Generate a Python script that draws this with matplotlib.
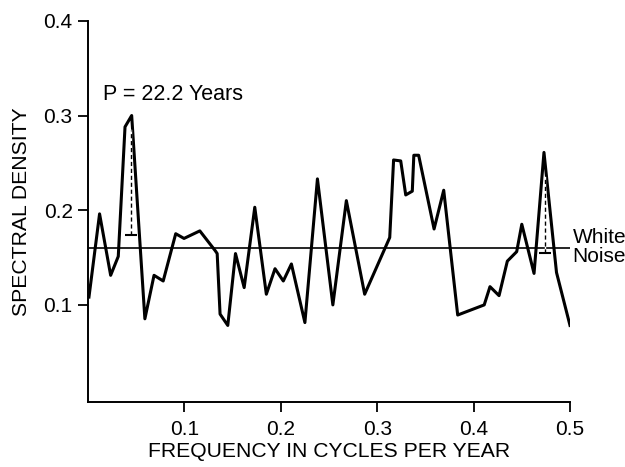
import matplotlib
matplotlib.use("Agg")
import matplotlib.pyplot as plt

plt.rcParams["font.family"] = ["Liberation Sans", "DejaVu Sans"]

# -- data ---------------------------------------------------------------------
freq = [0.001, 0.012, 0.0235, 0.0314, 0.0384, 0.0453, 0.059, 0.0685, 0.078,
        0.091, 0.0996, 0.116, 0.132, 0.134, 0.137, 0.145, 0.153, 0.162, 0.173,
        0.185, 0.194, 0.2026, 0.211, 0.225, 0.238, 0.254, 0.268, 0.287, 0.313,
        0.317, 0.3244, 0.3296, 0.3364, 0.338, 0.343, 0.359, 0.369, 0.3835,
        0.411, 0.417, 0.4264, 0.435, 0.4447, 0.450, 0.4627, 0.473, 0.486, 0.5]
density = [0.108, 0.196, 0.131, 0.151, 0.288, 0.300, 0.085, 0.131, 0.125,
           0.175, 0.170, 0.178, 0.157, 0.154, 0.090, 0.078, 0.154, 0.118, 0.203,
           0.111, 0.138, 0.125, 0.143, 0.081, 0.233, 0.0997, 0.210, 0.111, 0.171,
           0.253, 0.252, 0.216, 0.220, 0.258, 0.258, 0.180, 0.221, 0.089,
           0.0997, 0.119, 0.1095, 0.146, 0.156, 0.185, 0.133, 0.261, 0.134, 0.078]

white_noise = 0.16

# dashed significance bars at the two peaks
bar_f = [0.0443, 0.4744]
bar_low = [0.174, 0.155]
bar_high = [0.285, 0.235]

xticks = [0.1, 0.2, 0.3, 0.4, 0.5]
yticks = [0.1, 0.2, 0.3, 0.4]

fig = plt.figure(figsize=(6.25, 4.67), dpi=100)
ax = fig.add_axes([88 / 625, 65 / 467, 482 / 625, 381 / 467])

ax.plot([0, 0.5], [white_noise, white_noise], color="black", linewidth=1.2,
        zorder=2)
ax.plot(freq, density, color="black", linewidth=2.2,
        solid_joinstyle="round", zorder=3)

for f, lo, hi in zip(bar_f, bar_low, bar_high):
    ax.plot([f, f], [lo, hi], color="white", linewidth=1.0, zorder=4)
    ax.plot([f, f], [lo, hi], color="black", linewidth=1.0,
            linestyle=(0, (3, 2)), zorder=5)
    ax.plot([f], [lo], marker="_", markersize=9, markeredgewidth=1.5,
            color="black", zorder=5)

ax.text(0.0152, 0.322, "P = 22.2 Years", fontsize=15.5, ha="left", va="center")
ax.text(0.5028, 0.161, "White\nNoise", fontsize=15, ha="left", va="center",
        linespacing=1.0, clip_on=False)

ax.set_xlim(0, 0.5)
ax.set_ylim(-0.003, 0.4)
ax.set_xticks(xticks)
ax.set_xticklabels([f"{t:.1f}" for t in xticks])
ax.set_yticks(yticks)
ax.set_yticklabels([f"{t:.1f}" for t in yticks])

ax.spines[["top", "right"]].set_visible(False)
ax.spines[["left", "bottom"]].set_linewidth(1.4)
ax.spines["left"].set_bounds(-0.003, 0.4)
ax.tick_params(direction="out", length=7, width=1.3, labelsize=15, pad=4)
ax.tick_params(axis="x", pad=6)

ax.set_xlabel("FREQUENCY IN CYCLES PER YEAR", fontsize=15.2, labelpad=2)
ax.set_ylabel("SPECTRAL DENSITY", fontsize=15.2, labelpad=9)

fig.savefig("out.png", dpi=100)
